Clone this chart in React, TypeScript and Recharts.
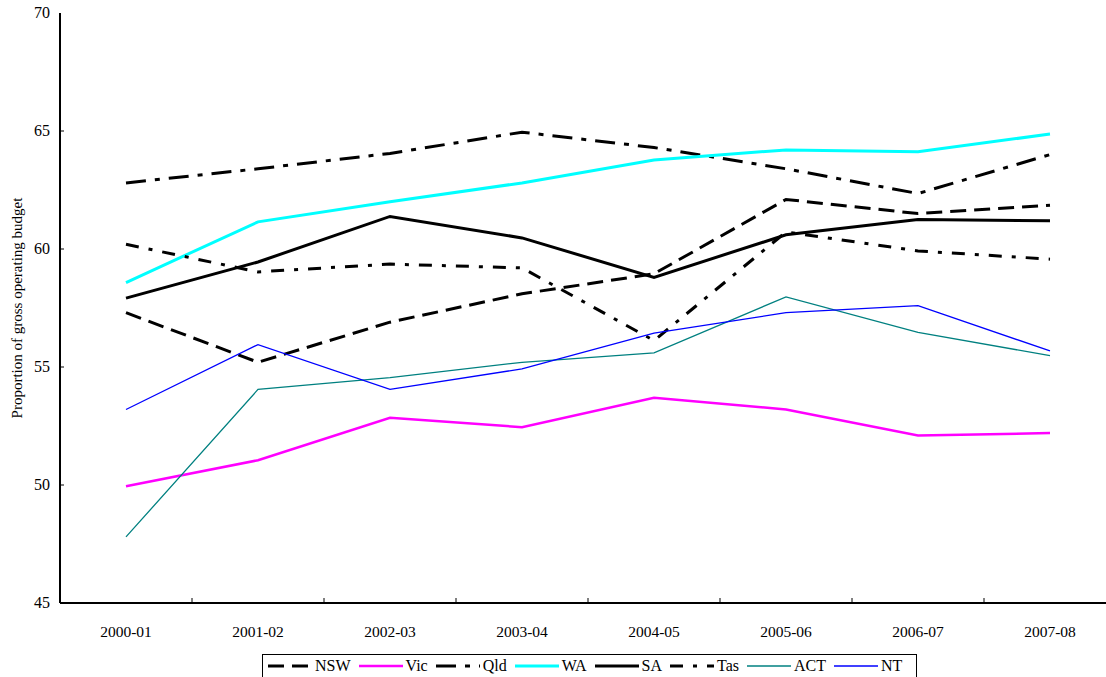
import React from 'react';
import { Legend, Line, LineChart, XAxis, YAxis } from 'recharts';

const categories = ['2000-01', '2001-02', '2002-03', '2003-04', '2004-05', '2005-06', '2006-07', '2007-08'];
const nsw = [57.3, 55.2, 56.9, 58.1, 58.95, 62.1, 61.5, 61.85];
const vic = [49.95, 51.05, 52.85, 52.45, 53.7, 53.2, 52.1, 52.2];
const qld = [62.8, 63.4, 64.05, 64.95, 64.3, 63.4, 62.35, 64.0];
const wa = [58.58, 61.15, 62.0, 62.8, 63.77, 64.2, 64.12, 64.87];
const sa = [57.92, 59.45, 61.38, 60.47, 58.8, 60.6, 61.25, 61.2];
const tas = [60.2, 59.03, 59.36, 59.2, 56.12, 60.72, 59.92, 59.57];
const act = [47.8, 54.05, 54.55, 55.2, 55.6, 57.97, 56.47, 55.48];
const nt = [53.2, 55.95, 54.05, 54.92, 56.44, 57.3, 57.6, 55.68];
const yTicks = [45, 50, 55, 60, 65, 70];

const data = categories.map((cat, i) => ({
  cat,
  NSW: nsw[i],
  Vic: vic[i],
  Qld: qld[i],
  WA: wa[i],
  SA: sa[i],
  Tas: tas[i],
  ACT: act[i],
  NT: nt[i],
}));

// line styles per state
const series = [
  { key: 'NSW', color: '#000', width: 3, dash: '16 8' },
  { key: 'Vic', color: '#FF00FF', width: 2.5, dash: undefined },
  { key: 'Qld', color: '#000', width: 3, dash: '20 9 5 9' },
  { key: 'WA', color: '#00FFFF', width: 3, dash: undefined },
  { key: 'SA', color: '#000', width: 3, dash: undefined },
  { key: 'Tas', color: '#000', width: 3, dash: '13 10 4 10' },
  { key: 'ACT', color: '#008080', width: 1.3, dash: undefined },
  { key: 'NT', color: '#0000FF', width: 1.3, dash: undefined },
];

const FONT = '"Liberation Serif", "Times New Roman", serif';
const BAND = 132;

const XTick = (props: any) => {
  const { x, y, payload, index } = props;
  return (
    <g>
      {index < categories.length - 1 && (
        <line x1={x + BAND / 2} x2={x + BAND / 2} y1={y} y2={y - 5} stroke="#000" strokeWidth={1} />
      )}
      <text x={x} y={y + 34} textAnchor="middle" fontFamily={FONT} fontSize={15.5} fill="#000">
        {payload.value}
      </text>
    </g>
  );
};

const YTick = (props: any) => {
  const { x, y, payload } = props;
  return (
    <g>
      {payload.value !== 70 && payload.value !== 45 && (
        <line x1={x} x2={x + 4} y1={y} y2={y} stroke="#000" strokeWidth={1} />
      )}
      <text x={x - 10} y={y + 5} textAnchor="end" fontFamily={FONT} fontSize={16} fill="#000">
        {payload.value}
      </text>
    </g>
  );
};

const YLabel = (props: any) => {
  const { viewBox } = props;
  const cy = viewBox.y + viewBox.height / 2;
  return (
    <text
      x={17}
      y={cy}
      transform={`rotate(-90, 17, ${cy})`}
      textAnchor="middle"
      dominantBaseline="central"
      fontFamily={FONT}
      fontSize={15}
      fill="#000"
    >
      Proportion of gross operating budget
    </text>
  );
};

const LegendBox = () => (
  <div
    style={{
      display: 'flex',
      alignItems: 'center',
      border: '1px solid #000',
      height: 24,
      boxSizing: 'border-box',
      paddingLeft: 5,
      fontFamily: FONT,
      fontSize: 16,
      color: '#000',
    }}
  >
    {series.map((s) => (
      <div key={s.key} style={{ display: 'flex', alignItems: 'center', marginRight: 8 }}>
        <svg width={44} height={10} style={{ marginRight: 3 }}>
          <line
            x1={0}
            x2={44}
            y1={5}
            y2={5}
            stroke={s.color}
            strokeWidth={s.width}
            strokeDasharray={s.dash}
          />
        </svg>
        <span>{s.key}</span>
      </div>
    ))}
  </div>
);

const App: React.FC = () => {
  return (
    <div style={{ position: 'absolute', left: 0, top: 0, width: 1106, height: 677, overflow: 'hidden', background: '#fff' }}>
      <LineChart width={1130} height={677} data={data} margin={{ top: 13, right: 14, left: 0, bottom: 0 }}>
        <XAxis
          dataKey="cat"
          interval={0}
          padding={{ left: 66, right: 66 }}
          tickSize={0}
          tickMargin={0}
          tickLine={false}
          tick={<XTick />}
          axisLine={{ stroke: '#000', strokeWidth: 2 }}
          height={50}
        />
        <XAxis
          xAxisId="top"
          dataKey="cat"
          orientation="top"
          height={0}
          tick={false}
          tickLine={false}
          axisLine={{ stroke: '#555', strokeWidth: 1 }}
        />
        <YAxis
          domain={[45, 70]}
          ticks={yTicks}
          interval={0}
          width={60}
          tickSize={0}
          tickMargin={0}
          tickLine={false}
          tick={<YTick />}
          axisLine={{ stroke: '#000', strokeWidth: 2 }}
          label={<YLabel />}
        />
        <Legend
          verticalAlign="bottom"
          content={<LegendBox />}
          wrapperStyle={{ position: 'absolute', left: 262, top: 654, width: 655, height: 24, bottom: 'auto' }}
        />
        {series.map((s) => (
          <Line
            key={s.key}
            type="linear"
            dataKey={s.key}
            stroke={s.color}
            strokeWidth={s.width}
            strokeDasharray={s.dash}
            dot={false}
            activeDot={false}
            isAnimationActive={false}
          />
        ))}
      </LineChart>
    </div>
  );
};

export default App;
